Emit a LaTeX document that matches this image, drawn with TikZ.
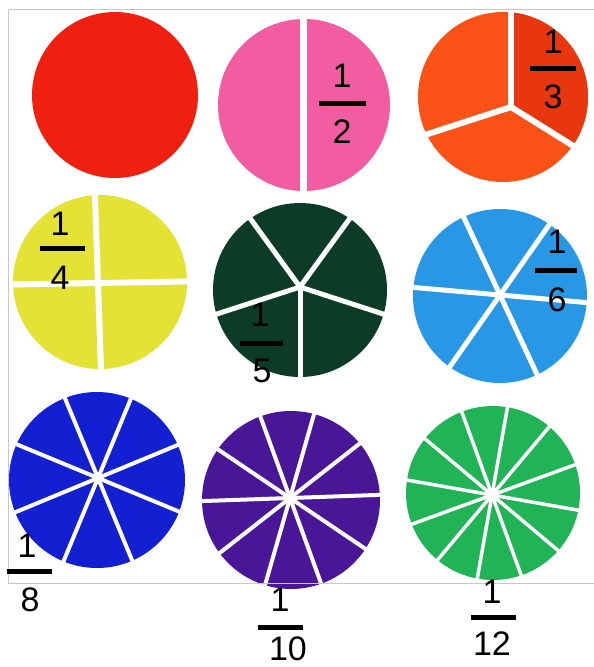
\documentclass[tikz,border=0pt]{standalone}
\usepackage{fontspec}
\setmainfont{Liberation Sans}
\usetikzlibrary{calc}
\definecolor{cRed}{RGB}{240,32,16}
\definecolor{cPink}{RGB}{242,92,160}
\definecolor{cOrange}{RGB}{250,82,22}
\definecolor{cOrangeD}{RGB}{232,54,14}
\definecolor{cYellow}{RGB}{228,226,52}
\definecolor{cDkGreen}{RGB}{12,60,38}
\definecolor{cLtBlue}{RGB}{40,152,230}
\definecolor{cDkBlue}{RGB}{18,32,210}
\definecolor{cPurple}{RGB}{72,22,150}
\definecolor{cGreen}{RGB}{32,180,86}
\definecolor{cFrame}{RGB}{200,200,200}
\begin{document}
\begin{tikzpicture}[x=1pt,y=-1pt,
  num/.style={font=\fontsize{34}{34}\selectfont, inner sep=0pt, text=black},
  fracbar/.style={line width=5pt, black},
  cut/.style={white, line width=5pt},
  framestyle/.style={cFrame, line width=1pt}]
\useasboundingbox (0,0) rectangle (594,667);
\fill[white] (0,0) rectangle (594,667);

% ---- row 1 ----
% whole
\coordinate (c1) at (115,95);
\fill[cRed] (c1) circle (83pt);
% halves
\coordinate (c2) at (304,105);
\fill[cPink] (c2) circle (86pt);
\draw[cut, line width=7pt] ($(c2)+(-1,-92)$) -- ($(c2)+(-1,92)$);
% thirds
\coordinate (c3) at (503,97);
\coordinate (j3) at (511,107);
\fill[cOrange] (c3) circle (85pt);
\begin{scope}
  \clip (c3) circle (85pt);
  \fill[cOrangeD] (j3) -- ++(-32:200pt) -- ++(90:300pt) -- ($(j3)+(90:200pt)$) -- cycle;
\end{scope}
\foreach \a in {90,198,328} \draw[cut, line width=6pt] (j3) -- ++(\a:100pt);

% ---- row 2 ----
% quarters
\coordinate (c4) at (100,282);
\coordinate (j4) at (98,283);
\fill[cYellow] (c4) circle (87pt);
\foreach \a in {1,92,181,272} \draw[cut, line width=6pt] (j4) -- ++(\a:95pt);
% fifths
\coordinate (c5) at (300,290);
\coordinate (j5) at (300,287);
\fill[cDkGreen] (c5) circle (87pt);
\foreach \a in {54,126,198,270,342} \draw[cut] (j5) -- ++(\a:95pt);
% sixths
\coordinate (c6) at (500,296);
\coordinate (j6) at (500,295);
\fill[cLtBlue] (c6) circle (87pt);
\foreach \a in {-5,55,115,175,235,295} \draw[cut] (j6) -- ++(\a:95pt);

% ---- row 3 ----
% eighths
\coordinate (c8) at (97,480);
\coordinate (j8) at (98,478);
\fill[cDkBlue] (c8) circle (88pt);
\foreach \a in {22.5,67.5,...,337.5} \draw[cut, line width=4pt] (j8) -- ++(\a:95pt);
\fill[white] (j8) circle (5pt);
% tenths
\coordinate (c10) at (291,500);
\coordinate (j10) at (290,498);
\fill[cPurple] (c10) circle (89pt);
\foreach \a in {2,38,...,326} \draw[cut, line width=4pt] (j10) -- ++(\a:96pt);
\fill[white] (j10) circle (6pt);
% twelfths
\coordinate (c12) at (493,493);
\coordinate (j12) at (492,495);
\fill[cGreen] (c12) circle (87pt);
\foreach \a in {20,50,...,350} \draw[cut, line width=3.5pt] (j12) -- ++(\a:95pt);
\fill[white] (j12) circle (6pt);

% ---- frame ----
\draw[framestyle] (594,9) -- (8,9) -- (8,583) -- (594,583);

% ---- labels ----
\node[num] (h1) at (342,76) {1};
\draw[fracbar] (319,103) -- (366,103);
\node[num] (h2) at (342,132) {2};

\node[num] (t1) at (553,42) {1};
\draw[fracbar] (530,68) -- (576,68);
\node[num] (t3) at (553,97) {3};

\node[num] (q1) at (60,224) {1};
\draw[fracbar] (40,248) -- (85,248);
\node[num] (q4) at (60,278) {4};

\node[num] (f1) at (260,315) {1};
\draw[fracbar] (240,343) -- (283,343);
\node[num] (f5) at (262,371) {5};

\node[num] (s1) at (557,242) {1};
\draw[fracbar] (535,270) -- (577,270);
\node[num] (s6) at (557,300) {6};

\node[num] (e1) at (27,546) {1};
\draw[fracbar] (7,571) -- (52,571);
\node[num] (e8) at (30,600) {8};

\node[num] (d1) at (280,600) {1};
\draw[fracbar] (258,627) -- (303,627);
\node[num] (d10) at (288,649) {10};

\node[num] (w1) at (492,592) {1};
\draw[fracbar] (471,617) -- (516,617);
\node[num] (w12) at (492,644) {12};
\end{tikzpicture}
\end{document}
